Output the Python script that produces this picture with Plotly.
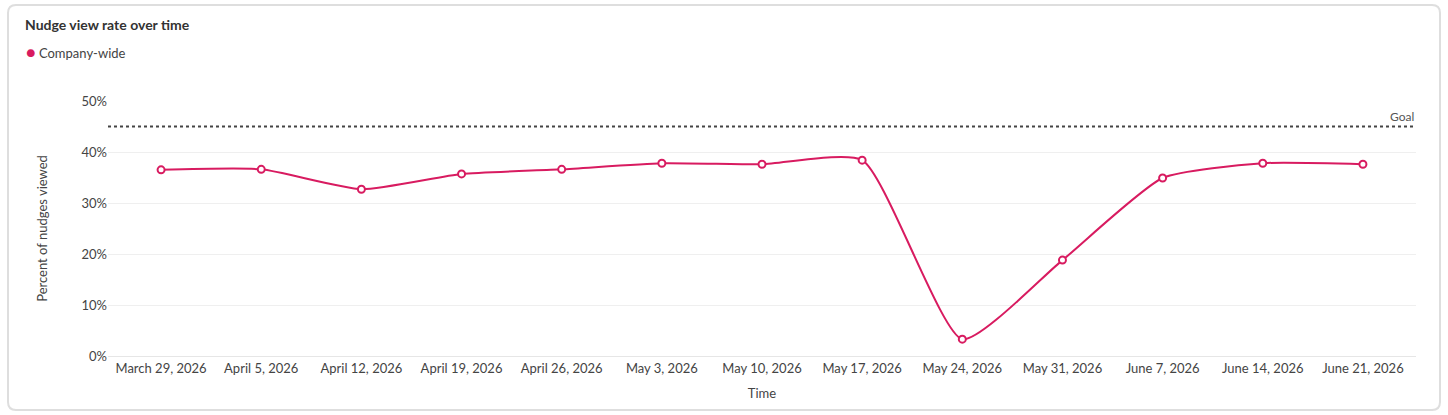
import plotly.graph_objects as go

# Dados
weeks = ["March 29, 2026", "April 5, 2026", "April 12, 2026", "April 19, 2026",
         "April 26, 2026", "May 3, 2026", "May 10, 2026", "May 17, 2026",
         "May 24, 2026", "May 31, 2026", "June 7, 2026", "June 14, 2026",
         "June 21, 2026"]
view_rate = [36.5, 36.6, 32.7, 35.7, 36.6, 37.8, 37.6, 38.4, 3.3, 18.8, 34.9, 37.8, 37.6]
goal = 45
y_ticks = [0, 10, 20, 30, 40, 50]
y_labels = [f"{v}%" for v in y_ticks]

pink = "#d81b60"
font = "Lato, Open Sans, sans-serif"
idx = list(range(len(weeks)))

fig = go.Figure()
fig.add_trace(go.Scatter(
    x=idx, y=view_rate, mode="lines+markers", name="Company-wide",
    line=dict(color=pink, width=2, shape="spline", smoothing=0.55),
    marker=dict(size=7, color="white", line=dict(color=pink, width=2)),
    showlegend=False,
))

# linha da meta
fig.add_trace(go.Scatter(
    x=[-0.53, len(weeks) - 0.47], y=[goal, goal], mode="lines",
    line=dict(color="#444", width=2, dash="dot"), showlegend=False, hoverinfo="skip",
))
fig.add_annotation(x=1, xref="paper", y=goal, yref="y", text="Goal", showarrow=False,
                   xanchor="right", yanchor="bottom", yshift=1,
                   font=dict(size=12, color="#555"))

# cartão com cantos arredondados (coordenadas do papel)
W, H = 1448, 415
L, R, T, B = 108, 32, 101, 59
pw, ph = W - L - R, H - T - B
def px_x(p): return (p - L) / pw
def px_y(p): return (H - B - p) / ph
x0, x1, y0, y1 = px_x(8), px_x(1440), px_y(410), px_y(5)
rx, ry = 8 / pw, 8 / ph
path = (f"M {x0+rx},{y1} L {x1-rx},{y1} Q {x1},{y1} {x1},{y1-ry} "
        f"L {x1},{y0+ry} Q {x1},{y0} {x1-rx},{y0} L {x0+rx},{y0} "
        f"Q {x0},{y0} {x0},{y0+ry} L {x0},{y1-ry} Q {x0},{y1} {x0+rx},{y1} Z")
fig.add_shape(type="path", path=path, xref="paper", yref="paper",
              line=dict(color="#dedede", width=2), layer="below")

# legenda desenhada como texto
fig.add_annotation(x=px_x(24), xref="paper", y=px_y(51), yref="paper",
                   text=f"<span style='color:{pink};font-size:16px'>●</span> Company-wide",
                   showarrow=False, xanchor="left", yanchor="middle",
                   font=dict(size=13, color="#444"))

fig.update_layout(
    width=W, height=H,
    margin=dict(l=L, r=R, t=T, b=B),
    paper_bgcolor="white", plot_bgcolor="white",
    font=dict(family=font, size=13, color="#444"),
    showlegend=False,
    title=dict(text="<b>Nudge view rate over time</b>", x=25 / W,
               xanchor="left", y=1 - 25 / H, yanchor="middle",
               font=dict(size=14, color="#333")),
    xaxis=dict(
        tickmode="array", tickvals=idx, ticktext=weeks,
        range=[-0.53, len(weeks) - 0.47], showgrid=False, zeroline=False,
        showline=True, linecolor="#e6e6e6", linewidth=1, ticks="",
        title=dict(text="Time", font=dict(size=13, color="#444"), standoff=14),
        tickfont=dict(size=13, color="#444"),
    ),
    yaxis=dict(
        range=[0, 50], tickmode="array", tickvals=y_ticks, ticktext=y_labels,
        showgrid=True, gridcolor="#efefef", zeroline=False,
        title=dict(text="Percent of nudges viewed", font=dict(size=13, color="#444"), standoff=30),
        tickfont=dict(size=13, color="#444"),
    ),
)

fig.write_html("out.html", config={"displayModeBar": False},
               post_script="document.body.style.margin='0';")
